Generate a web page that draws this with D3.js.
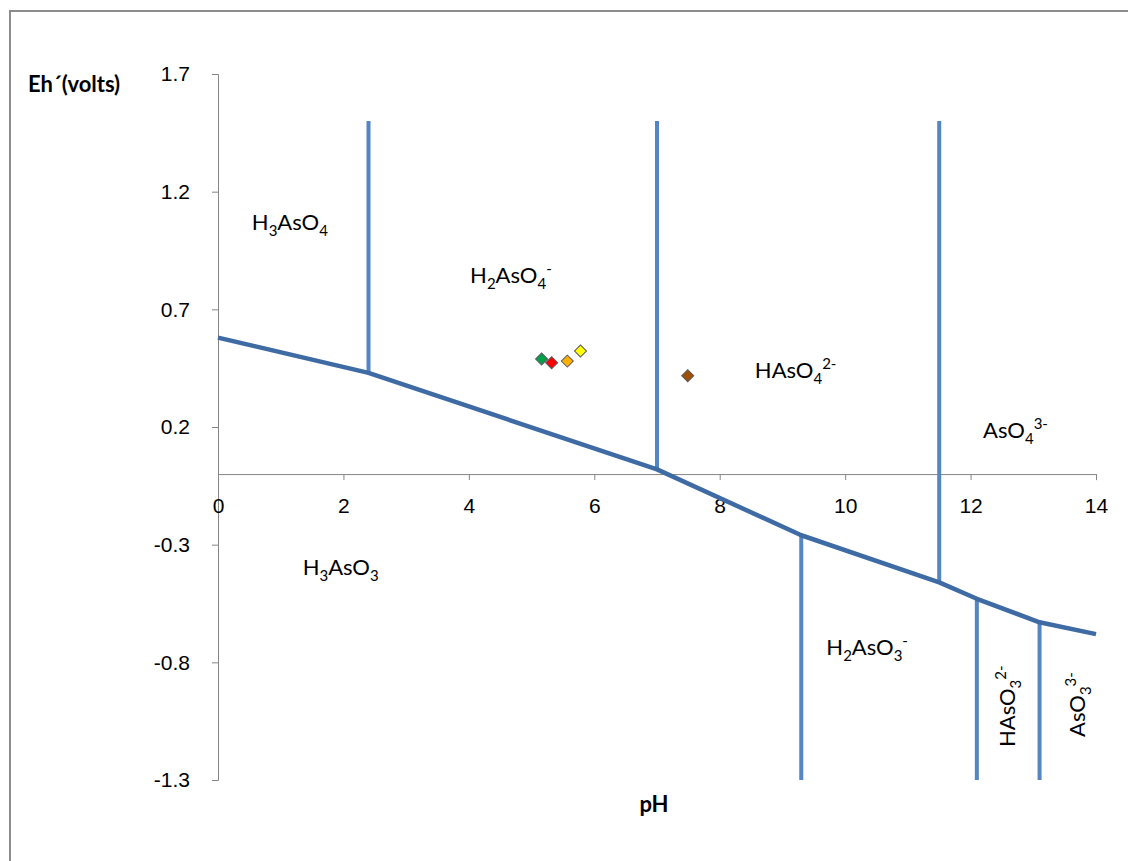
<!DOCTYPE html>
<html>
<head>
<meta charset="utf-8">
<script src="https://cdn.jsdelivr.net/npm/d3@7"></script>
<style>
  html, body { margin: 0; padding: 0; background: #fff; }
  svg { display: block; font-family: Lato, "Open Sans", sans-serif; }
</style>
</head>
<body>
<svg id="chart" width="1128" height="861"></svg>
<script>
// Eh-pH diagram for arsenic species

// stability boundary between As(V) and As(III)
const boundaryPH = [0, 2.4, 7, 9.3, 11.5, 12.1, 13.1, 14];
const boundaryEh = [0.58, 0.43, 0.02, -0.26, -0.46, -0.53, -0.63, -0.68];

// vertical boundaries (pKa lines)
const vertPH = [2.4, 7, 11.5, 9.3, 12.1, 13.1];
const vertTop = [1.5, 1.5, 1.5, -0.26, -0.53, -0.63];
const vertBottom = [0.43, 0.02, -0.46, -1.3, -1.3, -1.3];

// samples
const samplePH = [5.16, 5.32, 5.57, 5.78, 7.49];
const sampleEh = [0.489, 0.473, 0.48, 0.523, 0.418];
const sampleColor = ['#00a14b', '#ff0000', '#ffb000', '#ffff00', '#a04f00'];

// species labels: _ = subscript, ^ = superscript
const speciesText = ['H_3AsO_4', 'H_2AsO_4^-', 'HAsO_4^2-', 'AsO_4^3-', 'H_3AsO_3', 'H_2AsO_3^-', 'HAsO_3^2-', 'AsO_3^3-'];
const speciesPH = [0.54, 4.02, 8.56, 12.2, 1.35, 9.7, 12.71, 13.83];
const speciesEh = [1.037, 0.81, 0.41, 0.154, -0.43, -0.77, -1.16, -1.117];
const speciesRotated = [false, false, false, false, false, false, true, true];

const xTicks = [0, 2, 4, 6, 8, 10, 12, 14];
const yTicks = [1.7, 1.2, 0.7, 0.2, -0.3, -0.8, -1.3];

const svg = d3.select('#chart');
const margin = { left: 218, right: 32, top: 74, bottom: 81 };
const W = 1128, H = 861;

const x = d3.scaleLinear().domain([0, 14]).range([margin.left, W - margin.right]);
const y = d3.scaleLinear().domain([-1.3, 1.7]).range([H - margin.bottom, margin.top]);

// outer frame
svg.append('rect').attr('x', 10).attr('y', 11).attr('width', 1140).attr('height', 880)
  .attr('fill', 'none').attr('stroke', '#8c8c8c').attr('stroke-width', 2);

const axisColor = '#868686';

// y axis
const yAxis = svg.append('g').attr('transform', `translate(${x(0)},0)`)
  .call(d3.axisLeft(y).tickValues(yTicks).tickSize(6).tickPadding(22).tickFormat(d3.format('.1f')));
yAxis.select('.domain').attr('stroke', axisColor).attr('stroke-width', 1);
yAxis.selectAll('line').attr('stroke', axisColor);
yAxis.selectAll('text').attr('fill', '#000').style('font-size', '21px').text(d => d < 0 ? '-' + Math.abs(d).toFixed(1) : d.toFixed(1));

// x axis at Eh = 0
const xAxis = svg.append('g').attr('transform', `translate(0,${y(0)})`)
  .call(d3.axisBottom(x).tickValues(xTicks).tickSize(6).tickPadding(18).tickFormat(d3.format('d')));
xAxis.select('.domain').attr('stroke', axisColor).attr('stroke-width', 1);
xAxis.selectAll('line').attr('stroke', axisColor);
xAxis.selectAll('text').attr('fill', '#000').style('font-size', '21px');

// axis titles
svg.append('text').attr('x', 28).attr('y', 92).attr('font-weight', 'bold').style('font-size', '22px').text('Eh´(volts)');
svg.append('text').attr('x', x(7) - 3).attr('y', 812).attr('text-anchor', 'middle').attr('font-weight', 'bold').style('font-size', '22px').text('pH');

// vertical boundaries
svg.append('g').selectAll('line').data(vertPH).join('line')
  .attr('x1', d => x(d)).attr('x2', d => x(d))
  .attr('y1', (d, i) => y(vertTop[i])).attr('y2', (d, i) => y(vertBottom[i]))
  .attr('stroke', '#5585c2').attr('stroke-width', 4);

// redox boundary
const pts = boundaryPH.map((p, i) => [p, boundaryEh[i]]);
svg.append('path').datum(pts)
  .attr('d', d3.line().x(d => x(d[0])).y(d => y(d[1])))
  .attr('fill', 'none').attr('stroke', '#3f6ba5').attr('stroke-width', 4.5)
  .attr('stroke-linejoin', 'round');

// samples
svg.append('g').selectAll('path').data(samplePH).join('path')
  .attr('transform', (d, i) => `translate(${x(d)},${y(sampleEh[i])}) rotate(45)`)
  .attr('d', d3.symbol().type(d3.symbolSquare).size(72))
  .attr('fill', (d, i) => sampleColor[i])
  .attr('stroke', '#5a5a5a').attr('stroke-width', 1);

// species labels
function addFormula(g, str) {
  const parts = [];
  let i = 0;
  while (i < str.length) {
    if (str[i] === '_') {
      let j = i + 1; while (j < str.length && /[0-9]/.test(str[j])) j++;
      parts.push({ t: str.slice(i + 1, j), s: -1 }); i = j;
    } else if (str[i] === '^') {
      parts.push({ t: str.slice(i + 1), s: 1 }); i = str.length;
    } else {
      let j = i; while (j < str.length && str[j] !== '_' && str[j] !== '^') j++;
      parts.push({ t: str.slice(i, j), s: 0 }); i = j;
    }
  }
  let cur = 0;
  parts.forEach(p => {
    const target = p.s === -1 ? 6 : p.s === 1 ? -9 : 0;
    g.append('tspan').attr('dy', target - cur)
      .style('font-size', p.s === 0 ? '22px' : '15px').text(p.t);
    cur = target;
  });
}

speciesText.forEach((s, i) => {
  const t = svg.append('text').attr('fill', '#000').style('font-size', '22px');
  if (speciesRotated[i]) {
    t.attr('transform', `translate(${x(speciesPH[i])},${y(speciesEh[i])}) rotate(-90)`);
  } else {
    t.attr('x', x(speciesPH[i])).attr('y', y(speciesEh[i]));
  }
  addFormula(t, s);
});
</script>
</body>
</html>
